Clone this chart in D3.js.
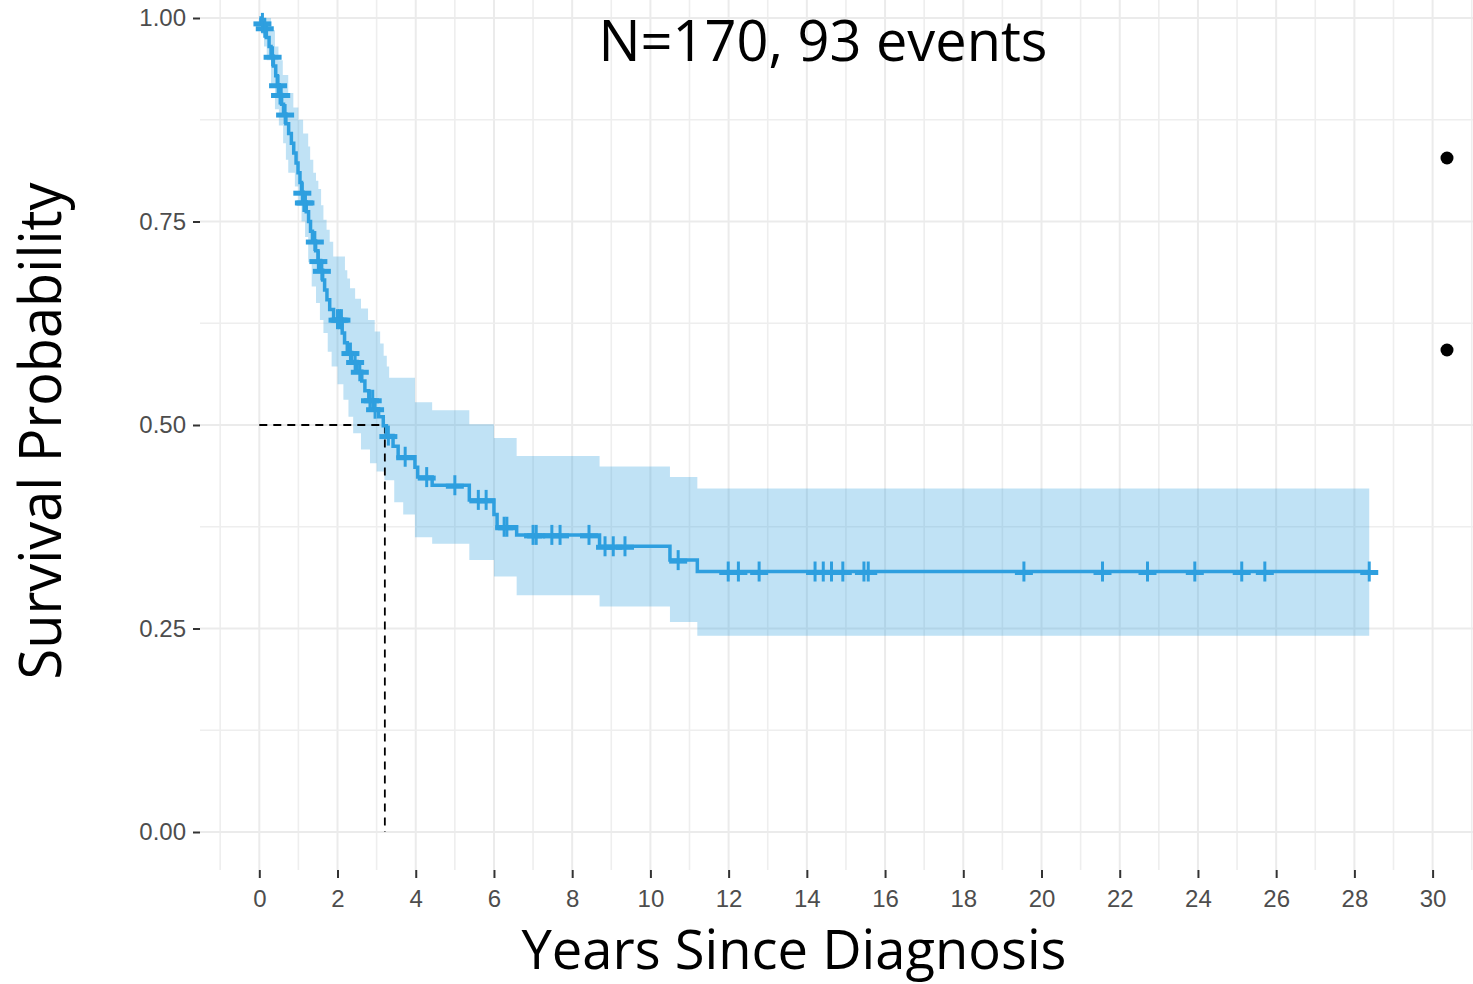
<!DOCTYPE html>
<html><head><meta charset="utf-8">
<script src="https://cdn.jsdelivr.net/npm/d3@7"></script>
<style>html,body{margin:0;padding:0;background:#fff;overflow:hidden}</style>
</head><body>
<svg id="chart" width="1473" height="984"></svg>
<script>
// ---- data ----
const stepTimes = [0,0.04,0.1,0.18,0.25,0.3,0.36,0.42,0.46,0.51,0.57,0.62,0.68,0.75,0.82,0.88,0.94,0.99,1.04,1.08,1.12,1.2,1.26,1.31,1.36,1.44,1.5,1.57,1.62,1.67,1.73,1.8,1.9,2.12,2.18,2.25,2.36,2.5,2.62,2.7,2.8,2.93,3.05,3.17,3.25,3.42,3.55,3.98,4.05,4.42,5.37,6.0,6.08,6.58,8.7,10.5,11.2];
const stepSurv  = [1.0,0.994,0.988,0.976,0.965,0.953,0.941,0.929,0.918,0.906,0.894,0.882,0.87,0.858,0.846,0.834,0.822,0.81,0.798,0.786,0.774,0.762,0.75,0.738,0.726,0.714,0.702,0.69,0.678,0.666,0.654,0.642,0.63,0.613,0.601,0.589,0.578,0.566,0.554,0.542,0.531,0.52,0.51,0.499,0.487,0.474,0.461,0.448,0.436,0.426,0.408,0.39,0.375,0.365,0.351,0.334,0.32];
const endTime = 28.38;
const upperTimes = [0,0.3,0.4,0.49,0.6,0.74,0.87,1.0,1.12,1.25,1.3,1.38,1.45,1.51,1.58,1.64,1.72,1.8,1.89,2.19,2.25,2.32,2.45,2.6,2.78,2.95,3.09,3.18,3.26,3.32,3.98,4.42,5.37,6.0,6.58,8.7,10.5,11.2];
const upperVals  = [1.0,0.985,0.965,0.948,0.93,0.908,0.89,0.875,0.858,0.842,0.826,0.81,0.8,0.79,0.77,0.752,0.74,0.725,0.707,0.69,0.68,0.668,0.655,0.643,0.629,0.615,0.6,0.585,0.572,0.558,0.528,0.518,0.501,0.484,0.462,0.449,0.436,0.422];
const lowerTimes = [0,0.05,0.12,0.19,0.3,0.4,0.5,0.61,0.68,0.74,0.91,1.0,1.08,1.17,1.25,1.34,1.45,1.55,1.64,1.75,1.85,2.0,2.15,2.28,2.4,2.6,2.83,3.0,3.2,3.45,3.68,3.98,4.42,5.37,6.0,6.58,8.7,10.5,11.2];
const lowerVals  = [1.0,0.98,0.965,0.948,0.915,0.888,0.868,0.846,0.826,0.81,0.793,0.77,0.75,0.731,0.7,0.67,0.65,0.629,0.613,0.59,0.572,0.55,0.531,0.51,0.49,0.47,0.453,0.443,0.432,0.405,0.39,0.362,0.354,0.334,0.314,0.291,0.277,0.258,0.241];
const censorTimes = [0.08,0.14,0.34,0.48,0.53,0.56,0.66,1.1,1.14,1.18,1.42,1.51,1.6,2.0,2.05,2.1,2.33,2.45,2.57,2.83,2.9,2.96,3.3,3.73,4.28,5.0,5.6,5.8,6.26,6.33,7.0,7.08,7.48,7.69,8.43,8.84,9.05,9.35,10.71,11.99,12.25,12.78,14.21,14.42,14.63,14.92,15.46,15.57,19.55,21.56,22.71,23.92,25.12,25.71,28.38];
const medianTime = 3.21;
const xTicks = [0,2,4,6,8,10,12,14,16,18,20,22,24,26,28,30];
const xMinor = [-1,1,3,5,7,9,11,13,15,17,19,21,23,25,27,29,31];
const yTicks = [0,0.25,0.5,0.75,1.0];
const yMinor = [0.125,0.375,0.625,0.875];
const titleText = "N=170, 93 events";
const xLabel = "Years Since Diagnosis";
const yLabel = "Survival Probability";

// ---- layout ----
const svg = d3.select("#chart");
const x = d3.scaleLinear().domain([0,30]).range([259.3,1432.6]);
const y = d3.scaleLinear().domain([0,1]).range([832,18]);
const panel = {left:200, right:1473, top:-30, bottom:870};
const col = "#2E9FDF";

// grid
const g = svg.append("g");
g.selectAll(".vmin").data(xMinor).enter().append("line")
  .attr("x1",d=>x(d)).attr("x2",d=>x(d)).attr("y1",panel.top).attr("y2",panel.bottom)
  .attr("stroke","#eeeeee").attr("stroke-width",1.6);
g.selectAll(".vmaj").data(xTicks).enter().append("line")
  .attr("x1",d=>x(d)).attr("x2",d=>x(d)).attr("y1",panel.top).attr("y2",panel.bottom)
  .attr("stroke","#ebebeb").attr("stroke-width",2);
g.selectAll(".hmin").data(yMinor).enter().append("line")
  .attr("x1",panel.left).attr("x2",panel.right).attr("y1",d=>y(d)).attr("y2",d=>y(d))
  .attr("stroke","#eeeeee").attr("stroke-width",1.6);
g.selectAll(".hmaj").data(yTicks).enter().append("line")
  .attr("x1",panel.left).attr("x2",panel.right).attr("y1",d=>y(d)).attr("y2",d=>y(d))
  .attr("stroke","#ebebeb").attr("stroke-width",2);

// step lookup
function stepVal(times, vals, t){ let v = vals[0]; for(let i=0;i<times.length;i++){ if(times[i]<=t) v = vals[i]; } return v; }

// band
const bandT = Array.from(new Set(upperTimes.concat(lowerTimes))).sort((a,b)=>a-b);
const bandData = bandT.map(t=>({t, hi:stepVal(upperTimes,upperVals,t), lo:stepVal(lowerTimes,lowerVals,t)}));
bandData.push({t:endTime, hi:stepVal(upperTimes,upperVals,endTime), lo:stepVal(lowerTimes,lowerVals,endTime)});
const area = d3.area().x(d=>x(d.t)).y0(d=>y(d.lo)).y1(d=>y(d.hi)).curve(d3.curveStepAfter);
svg.append("path").datum(bandData).attr("d",area).attr("fill",col).attr("fill-opacity",0.3);

// median lines
svg.append("path").attr("d",`M${x(0)},${y(0.5)}H${x(medianTime)}V${y(0)}`)
  .attr("fill","none").attr("stroke","#000").attr("stroke-width",1.8).attr("stroke-dasharray","8,6");

// survival curve
const curveData = stepTimes.map((t,i)=>({t, s:stepSurv[i]}));
curveData.push({t:endTime, s:stepSurv[stepSurv.length-1]});
const line = d3.line().x(d=>x(d.t)).y(d=>y(d.s)).curve(d3.curveStepAfter);
svg.append("path").datum(curveData).attr("d",line).attr("fill","none").attr("stroke",col).attr("stroke-width",3.5);

// censor marks
const cg = svg.append("g").attr("stroke",col);
censorTimes.forEach(t=>{
  const cx = x(t), cy = y(stepVal(stepTimes,stepSurv,t));
  cg.append("line").attr("x1",cx-9).attr("x2",cx+9).attr("y1",cy+1).attr("y2",cy+1).attr("stroke-width",5);
  cg.append("line").attr("x1",cx).attr("x2",cx).attr("y1",cy-10).attr("y2",cy+10).attr("stroke-width",3);
});

// axes
const yAxis = svg.append("g").attr("transform",`translate(${panel.left},0)`)
  .call(d3.axisLeft(y).tickValues(yTicks).tickFormat(d3.format(".2f")).tickSize(7).tickPadding(7));
const xAxis = svg.append("g").attr("transform",`translate(0,${panel.bottom})`)
  .call(d3.axisBottom(x).tickValues(xTicks).tickFormat(d3.format("d")).tickSize(8).tickPadding(12));
[yAxis,xAxis].forEach(a=>{
  a.select(".domain").remove();
  a.selectAll(".tick line").attr("stroke","#333").attr("stroke-width",2);
  a.selectAll(".tick text").attr("fill","#4d4d4d").style("font-family","'Liberation Sans', Arial, sans-serif").style("font-size","24px");
});

// texts
const tf = "'Open Sans','Noto Sans',sans-serif";
svg.append("text").attr("x",823).attr("y",61).attr("text-anchor","middle")
  .attr("textLength",449).attr("lengthAdjust","spacingAndGlyphs")
  .style("font-family",tf).style("font-size","56px").attr("fill","#000").text(titleText);
svg.append("text").attr("x",794).attr("y",969).attr("text-anchor","middle")
  .attr("textLength",545).attr("lengthAdjust","spacingAndGlyphs")
  .style("font-family",tf).style("font-size","54px").attr("fill","#000").text(xLabel);
svg.append("text").attr("transform","translate(61,431) rotate(-90)").attr("text-anchor","middle")
  .attr("textLength",497).attr("lengthAdjust","spacingAndGlyphs")
  .style("font-family",tf).style("font-size","58px").attr("fill","#000").text(yLabel);

// bullets
const bullets = [158,350];
svg.selectAll(".bullet").data(bullets).enter().append("circle")
  .attr("cx",1447).attr("cy",d=>d).attr("r",6.5).attr("fill","#000");
</script>
</body></html>
